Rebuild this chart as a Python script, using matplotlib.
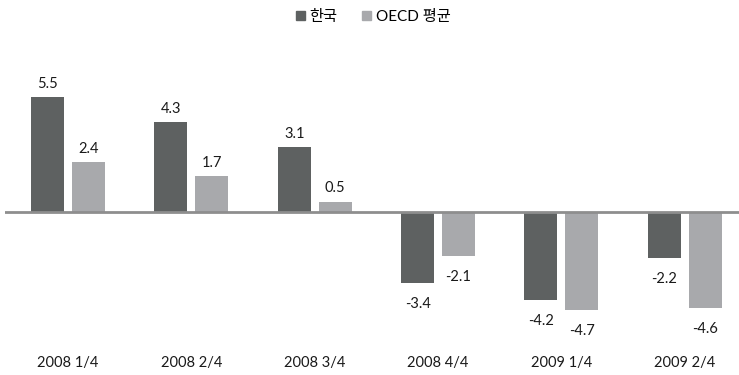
import matplotlib
matplotlib.use("Agg")
import matplotlib.pyplot as plt
import numpy as np

plt.rcParams['font.family'] = ['Lato', 'Noto Sans CJK KR', 'DejaVu Sans']

quarters = ["2008 1/4", "2008 2/4", "2008 3/4", "2008 4/4", "2009 1/4", "2009 2/4"]
korea = [5.5, 4.3, 3.1, -3.4, -4.2, -2.2]
oecd = [2.4, 1.7, 0.5, -2.1, -4.7, -4.6]
series_names = ["한국", "OECD 평균"]

c_korea = "#5e6161"
c_oecd = "#a8a9ac"
c_text = "#1a1a1a"

W, H = 739, 375
fig = plt.figure(figsize=(W / 100, H / 100), dpi=100)
# axes: left 5px, right edge, top 60px, bottom 350px
ax = fig.add_axes([5 / W, 1 - 350 / H, 1 - 5 / W, (350 - 60) / H])

x = np.arange(len(quarters))
bw = 0.268
off = 0.166
b1 = ax.bar(x - off, korea, bw, color=c_korea, zorder=2)
b2 = ax.bar(x + off, oecd, bw, color=c_oecd, zorder=2)

px_per_unit = 20.95
ax.set_ylim(-(350 - 212) / px_per_unit, (212 - 60) / px_per_unit)
ax.set_xlim(-0.511, 5.44)

ax.axhline(0, color="#8e8e8e", lw=2, zorder=3)

for bars, vals in ((b1, korea), (b2, oecd)):
    for b, v in zip(bars, vals):
        cx = b.get_x() + b.get_width() / 2
        dy = 9.5 if v >= 0 else -15
        ax.annotate(f"{v:.1f}", (cx, v), xytext=(0, dy), textcoords="offset points",
                    ha="center", va="center", fontsize=10.5, color=c_text)

ax.set_xticks(x)
ax.set_xticklabels(quarters, fontsize=10.5, color=c_text)
ax.tick_params(axis="x", length=0, pad=4)
ax.set_yticks([])
for s in ax.spines.values():
    s.set_visible(False)

handles = [plt.Rectangle((0, 0), 1, 1, color=c_korea), plt.Rectangle((0, 0), 1, 1, color=c_oecd)]
fig.legend(handles, series_names, loc="center", bbox_to_anchor=(373 / W, 1 - 17 / H),
           ncol=2, frameon=False, fontsize=11, handlelength=0.6, handleheight=0.6,
           handletextpad=0.3, columnspacing=1.6)

fig.savefig("out.png", dpi=100)
